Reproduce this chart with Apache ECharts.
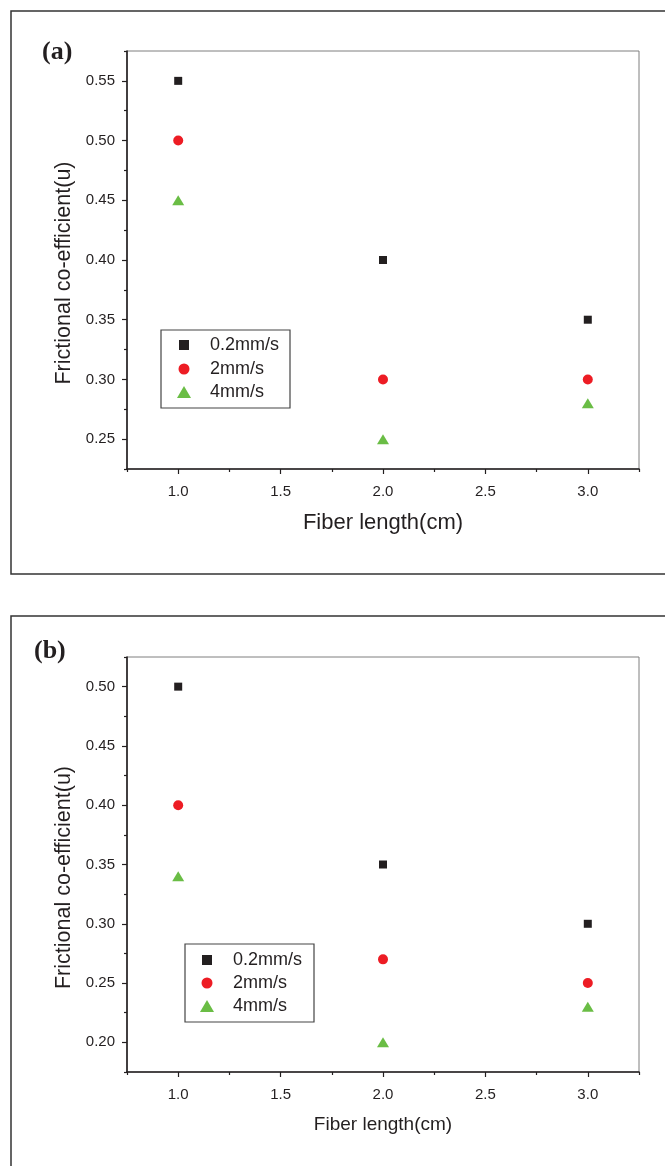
<!DOCTYPE html>
<html><head><meta charset="utf-8">
<script src="https://cdn.jsdelivr.net/npm/echarts@6/dist/echarts.min.js"></script>
<style>html,body{margin:0;padding:0;background:#fff}#c{width:665px;height:1166px}</style>
</head><body><div id="c"></div>
<script>
// ---- data ----
const fiberLengths = [1.0, 2.0, 3.0];
const seriesNames = ['0.2mm/s', '2mm/s', '4mm/s'];
const panelA_02 = [0.55, 0.40, 0.35];
const panelA_2  = [0.50, 0.30, 0.30];
const panelA_4  = [0.45, 0.25, 0.28];
const panelB_02 = [0.50, 0.35, 0.30];
const panelB_2  = [0.40, 0.27, 0.25];
const panelB_4  = [0.34, 0.20, 0.23];
const xMajorTicks = [1.0, 1.5, 2.0, 2.5, 3.0];
const xMinorTicks = [0.75, 1.25, 1.75, 2.25, 2.75, 3.25];
const yMajorTicksA = [0.25, 0.30, 0.35, 0.40, 0.45, 0.50, 0.55];
const yMinorTicksA = [0.225, 0.275, 0.325, 0.375, 0.425, 0.475, 0.525, 0.575];
const yMajorTicksB = [0.20, 0.25, 0.30, 0.35, 0.40, 0.45, 0.50];
const yMinorTicksB = [0.175, 0.225, 0.275, 0.325, 0.375, 0.425, 0.475, 0.525];
const xTitle = 'Fiber length(cm)';
const yTitle = 'Frictional co-efficient(u)';

// ---- style ----
const FONT = '"Liberation Sans", Arial, sans-serif';
const TXT = '#231f20';
const AX = '#231f20';
const colors = ['#231f20', '#ed1c24', '#6abd45'];
const symbols = ['rect', 'circle', 'triangle'];
const symSizes = [8, 10, [12, 10]];

const chart = echarts.init(document.getElementById('c'), null, {renderer: 'canvas'});

function pairs(vals) { return fiberLengths.map((x, i) => [x, vals[i]]); }

function xAxes(grid, nameSize, nameGap) {
  return [
    {type: 'value', gridIndex: grid, min: 0.75, max: 3.25, position: 'bottom',
     name: xTitle, nameLocation: 'middle', nameGap: nameGap,
     nameTextStyle: {fontFamily: FONT, fontSize: nameSize, color: TXT},
     axisLine: {show: true, onZero: false, lineStyle: {color: AX, width: 1.6}},
     axisTick: {show: true, inside: false, length: 5, lineStyle: {color: AX, width: 1.2}, customValues: xMajorTicks},
     axisLabel: {show: true, margin: 15, fontFamily: FONT, fontSize: 15, color: TXT, customValues: xMajorTicks,
                 formatter: v => Number(v).toFixed(1)},
     splitLine: {show: false}},
    {type: 'value', gridIndex: grid, min: 0.75, max: 3.25, position: 'bottom',
     axisLine: {show: false, onZero: false},
     axisTick: {show: true, inside: false, length: 3, lineStyle: {color: AX, width: 1.2}, customValues: xMinorTicks},
     axisLabel: {show: false}, splitLine: {show: false}}
  ];
}
function yAxes(grid, min, max, major, minor) {
  return [
    {type: 'value', gridIndex: grid, min: min, max: max, position: 'left',
     name: yTitle, nameLocation: 'middle', nameGap: 52, nameRotate: 90,
     nameTextStyle: {fontFamily: FONT, fontSize: 21.5, color: TXT, padding: [0, 26, 0, 0]},
     axisLine: {show: true, onZero: false, lineStyle: {color: AX, width: 1.6}},
     axisTick: {show: true, inside: false, length: 5, lineStyle: {color: AX, width: 1.2}, customValues: major},
     axisLabel: {show: true, margin: 12, fontFamily: FONT, fontSize: 15, color: TXT, customValues: major,
                 formatter: v => Number(v).toFixed(2)},
     splitLine: {show: false}},
    {type: 'value', gridIndex: grid, min: min, max: max, position: 'left',
     axisLine: {show: false, onZero: false},
     axisTick: {show: true, inside: false, length: 3, lineStyle: {color: AX, width: 1.2}, customValues: minor},
     axisLabel: {show: false}, splitLine: {show: false}}
  ];
}

function makeLegends(centers, textX) {
  const iconW = [10, 11, 14], iconH = [10, 11, 12];
  return seriesNames.map((n, i) => {
    const left = centers[i][0] - iconW[i] / 2;
    return {
      data: [n], orient: 'vertical', left: left, top: centers[i][1] - 10, padding: 0,
      itemWidth: iconW[i], itemHeight: iconH[i], selectedMode: false,
      textStyle: {fontFamily: FONT, fontSize: 18, color: TXT, lineHeight: 20,
                  padding: [0, 0, 0, textX - (left + iconW[i] + 5)]}
    };
  });
}

const series = [];
[[panelA_02, panelA_2, panelA_4, 0], [panelB_02, panelB_2, panelB_4, 2]].forEach(p => {
  [p[0], p[1], p[2]].forEach((vals, i) => {
    series.push({
      type: 'scatter', name: seriesNames[i], xAxisIndex: p[3], yAxisIndex: p[3],
      data: pairs(vals), symbol: symbols[i], symbolSize: symSizes[i],
      itemStyle: {color: colors[i], opacity: 1}, emphasis: {disabled: true}, silent: true
    });
  });
});

const option = {
  animation: false,
  backgroundColor: '#fff',
  grid: [
    {left: 127, top: 51, width: 512, height: 418, show: true, borderColor: '#7f7f7f', borderWidth: 1, containLabel: false},
    {left: 127, top: 657, width: 512, height: 415, show: true, borderColor: '#7f7f7f', borderWidth: 1, containLabel: false}
  ],
  xAxis: [...xAxes(0, 22, 43), ...xAxes(1, 19, 43)],
  yAxis: [...yAxes(0, 0.225, 0.575, yMajorTicksA, yMinorTicksA), ...yAxes(1, 0.175, 0.525, yMajorTicksB, yMinorTicksB)],
  legend: [
    ...makeLegends([[184, 345], [184, 369], [184, 392]], 210),
    ...makeLegends([[207, 960], [207, 983], [207, 1006]], 233)
  ],
  graphic: [
    {type: 'rect', shape: {x: 11, y: 11, width: 720, height: 563}, style: {fill: 'none', stroke: '#333', lineWidth: 1.5}, silent: true},
    {type: 'rect', shape: {x: 11, y: 616, width: 720, height: 620}, style: {fill: 'none', stroke: '#333', lineWidth: 1.5}, silent: true},
    {type: 'rect', shape: {x: 161, y: 330, width: 129, height: 78}, style: {fill: 'none', stroke: '#444', lineWidth: 1.2}, silent: true},
    {type: 'rect', shape: {x: 185, y: 944, width: 129, height: 78}, style: {fill: 'none', stroke: '#444', lineWidth: 1.2}, silent: true},
    {type: 'text', left: 42, top: 39, style: {text: '(a)', font: 'bold 26px "Liberation Serif", "Times New Roman", serif', fill: TXT}, silent: true},
    {type: 'text', left: 34, top: 638, style: {text: '(b)', font: 'bold 26px "Liberation Serif", "Times New Roman", serif', fill: TXT}, silent: true}
  ],
  series: series
};
chart.setOption(option);
</script>
</body></html>
